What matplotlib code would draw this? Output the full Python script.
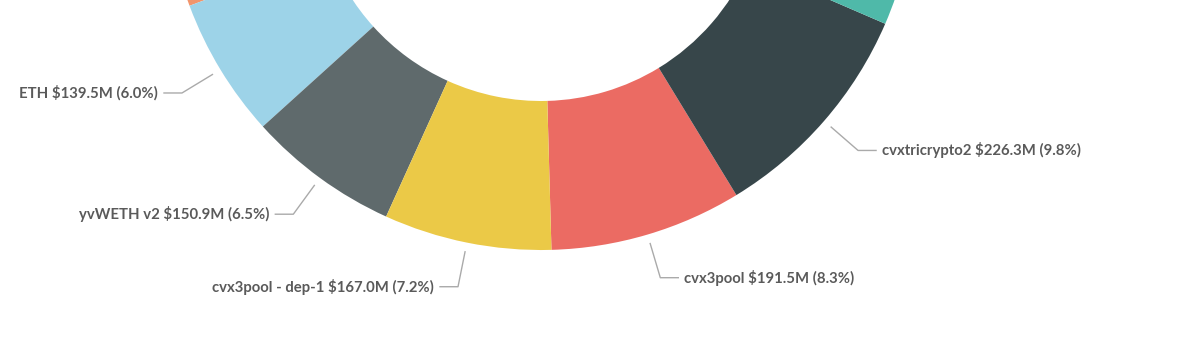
import matplotlib.pyplot as plt
import numpy as np

plt.rcParams['font.family'] = ['Lato', 'DejaVu Sans']

# slices in counterclockwise order, starting at the bottom
names = ["cvx3pool", "cvxtricrypto2", "teal (off-screen)", "rest (off-screen)",
         "orange (off-screen)", "ETH", "yvWETH v2", "cvx3pool - dep-1"]
values = [191.5, 226.3, 240.0, 997.8, 200.0, 139.5, 150.9, 167.0]  # $M
colors = ["#EB6B63", "#37464A", "#4FB9A9", "#DDDDDD", "#F2956C",
          "#9DD3E8", "#5F6A6C", "#EBC947"]
shown = ["cvx3pool", "cvxtricrypto2", "ETH", "yvWETH v2", "cvx3pool - dep-1"]

total = sum(values)

fig = plt.figure(figsize=(12, 3.51), dpi=100)
ax = fig.add_axes([0, 0, 1, 1])

# pie centre sits above the top edge of the picture
cx, cy, R = 541, 351 + 125, 375
wedges, _ = ax.pie(values, colors=colors, startangle=-88.4, counterclock=True,
                   center=(cx, cy), radius=R, frame=True,
                   wedgeprops=dict(width=149, linewidth=0))
ax.set_xlim(0, 1200)
ax.set_ylim(0, 351)
ax.axis('off')

for w, name, v in zip(wedges, names, values):
    if name not in shown:
        continue
    ang = np.deg2rad((w.theta1 + w.theta2) / 2)
    x0, y0 = cx + 1.025 * R * np.cos(ang), cy + 1.025 * R * np.sin(ang)
    x1, y1 = cx + 1.12 * R * np.cos(ang), cy + 1.12 * R * np.sin(ang)
    side = 1 if np.cos(ang) > 0 else -1
    x2 = x1 + side * 18
    ax.plot([x0, x1, x2], [y0, y1, y1], color="#AAAAAA", lw=1, clip_on=False)
    label = "{0} ${1:.1f}M ({2:.1f}%)".format(name, v, v / total * 100)
    ax.text(x2 + side * 6, y1, label, ha='left' if side > 0 else 'right',
            va='center', fontsize=10.7, color="#5A5A5A", fontweight='bold')

fig.savefig("out.png", dpi=100)
